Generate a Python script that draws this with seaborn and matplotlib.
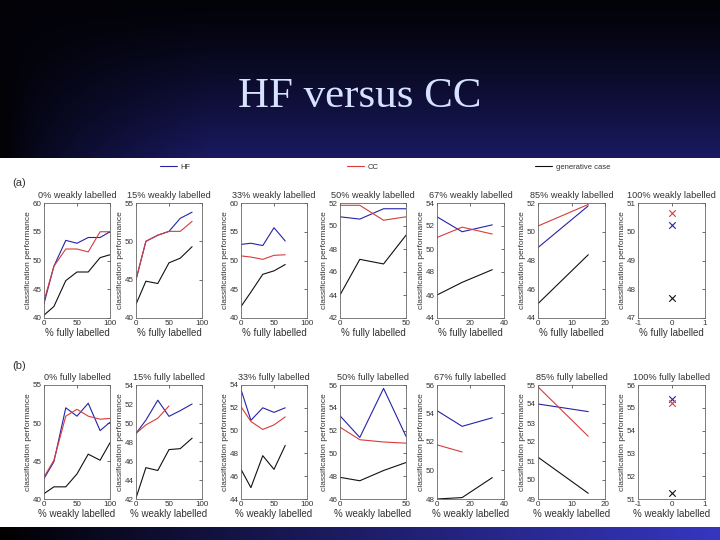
import numpy as np
import seaborn as sns
import matplotlib.pyplot as plt

# x positions (percent labelled) shared by all panels
x_steps = [0, 15, 33, 50, 67, 85, 100]

# (a) fixed % weakly labelled, x = % fully labelled
a_titles = ['0% weakly labelled', '15% weakly labelled', '33% weakly labelled',
            '50% weakly labelled', '67% weakly labelled', '85% weakly labelled',
            '100% weakly labelled']
a_hf = [[42.5, 49.0, 53.5, 53.0, 54.0, 54.0, 55.0],
        [45.0, 50.0, 50.8, 51.3, 53.0, 53.8],
        [52.8, 53.0, 52.6, 55.7, 53.4],
        [50.8, 50.6, 51.5, 51.5],
        [52.8, 51.5, 52.1],
        [48.9, 51.8],
        [50.25]]
a_cc = [[43.0, 49.0, 52.0, 52.0, 51.5, 55.0, 55.0],
        [45.0, 50.0, 50.8, 51.3, 51.3, 52.6],
        [50.8, 50.6, 50.2, 50.9, 51.0],
        [51.8, 51.8, 50.5, 50.8],
        [51.0, 51.9, 51.3],
        [50.4, 51.9],
        [50.65]]
a_gen = [[40.5, 42.0, 46.5, 48.0, 48.0, 50.5, 51.0],
         [41.8, 44.8, 44.5, 47.2, 47.8, 49.3],
         [42.0, 44.5, 47.6, 48.2, 49.3],
         [44.0, 47.1, 46.7, 49.2],
         [46.0, 47.1, 48.2],
         [45.0, 48.4],
         [47.7]]
a_ylims = [(40, 60), (40, 55), (40, 60), (42, 52), (44, 54), (44, 52), (47, 51)]
a_ysteps = [5, 5, 5, 2, 2, 2, 1]

# (b) fixed % fully labelled, x = % weakly labelled
b_titles = ['0% fully labelled', '15% fully labelled', '33% fully labelled',
            '50% fully labelled', '67% fully labelled', '85% fully labelled',
            '100% fully labelled']
b_hf = [[42.7, 44.9, 52.0, 50.9, 52.6, 49.0, 50.1],
        [48.9, 50.3, 52.4, 50.7, 51.3, 52.0],
        [53.6, 50.9, 52.0, 51.6, 52.0],
        [53.3, 51.4, 55.7, 51.5],
        [54.2, 53.1, 53.7],
        [54.0, 53.6],
        [55.4]]
b_cc = [[42.9, 45.1, 50.9, 51.8, 50.9, 50.5, 50.6],
        [48.9, 49.8, 50.5, 51.8],
        [52.1, 50.8, 50.1, 50.5, 51.2],
        [52.3, 51.2, 51.0, 50.9],
        [51.8, 51.3],
        [54.9, 52.3],
        [55.2]]
b_gen = [[40.7, 41.6, 41.6, 43.3, 45.9, 45.1, 47.4],
         [42.1, 45.3, 45.0, 47.2, 47.3, 48.4],
         [46.6, 45.0, 47.8, 46.6, 48.7],
         [47.9, 47.6, 48.5, 49.2],
         [48.0, 48.1, 49.5],
         [51.2, 49.3],
         [51.25]]
b_ylims = [(40, 55), (42, 54), (44, 54), (46, 56), (48, 56), (49, 55), (51, 56)]
b_ysteps = [5, 2, 2, 2, 2, 1, 1]

xlims = [(0, 100), (0, 100), (0, 100), (0, 50), (0, 40), (0, 20), (-1, 1)]
xtick_sets = [[0, 50, 100], [0, 50, 100], [0, 50, 100], [0, 50],
              [0, 20, 40], [0, 10, 20], [-1, 0, 1]]

HF_COL = '#2424a8'
CC_COL = '#d83c3c'
GEN_COL = '#111111'
TXT = '#333333'

sns.set_style('white')
plt.rcParams['font.family'] = ['Liberation Sans', 'DejaVu Sans']
plt.rcParams['axes.unicode_minus'] = False

W, H = 720, 540
fig = plt.figure(figsize=(7.2, 5.4), dpi=100)

# slide background: dark gradient, white panel, blue strip at the bottom
yy, xx = np.mgrid[0:H, 0:W]
navy = np.array([26, 26, 98]) / 255
v = np.clip(yy / 158.0, 0, 1) ** 1.3
h = np.clip((xx - 10) / 200.0, 0, 1) ** 0.7
bg = navy * (0.08 + 0.92 * v * h)[..., None]
bg[158:527] = 1.0
strip = np.array([54, 54, 192]) / 255
bg[527:] = strip * (np.clip(xx[527:] / 720.0, 0, 1) ** 0.9)[..., None]
ax_bg = fig.add_axes([0, 0, 1, 1], zorder=-5)
ax_bg.imshow(bg, aspect='auto', interpolation='bilinear')
ax_bg.axis('off')

fig.text(0.5, 1 - 97 / H, 'HF versus CC', ha='center', va='center',
         family='Liberation Serif', fontsize=31, color='#d6e2ff')

cols = [(44, 110), (136, 202), (241, 307), (340, 406), (437, 504), (538, 605), (638, 705)]
rows = [(203, 318), (385, 499)]


def draw_row(r, titles, hf, cc, gen, ylims, ysteps, xlabel):
    top, bot = rows[r]
    axes = []
    for i in range(7):
        l, rr = cols[i]
        ax = fig.add_axes([l / W, 1 - bot / H, (rr - l) / W, (bot - top) / H])
        ax.set_facecolor('white')
        if i < 6:
            sns.lineplot(x=x_steps[:len(hf[i])], y=hf[i], ax=ax, color=HF_COL, linewidth=0.8)
            sns.lineplot(x=x_steps[:len(cc[i])], y=cc[i], ax=ax, color=CC_COL, linewidth=0.8)
            sns.lineplot(x=x_steps[:len(gen[i])], y=gen[i], ax=ax, color=GEN_COL, linewidth=0.8)
        else:
            sns.scatterplot(x=x_steps[:1], y=hf[i], ax=ax, color=HF_COL, marker='x', s=22, linewidth=0.8)
            sns.scatterplot(x=x_steps[:1], y=cc[i], ax=ax, color=CC_COL, marker='x', s=22, linewidth=0.8)
            sns.scatterplot(x=x_steps[:1], y=gen[i], ax=ax, color=GEN_COL, marker='x', s=22, linewidth=0.8)
        lo, hi = ylims[i]
        ax.set_xlim(*xlims[i])
        ax.set_ylim(lo, hi)
        ax.set_xticks(xtick_sets[i])
        ax.set_yticks(np.arange(lo, hi + 0.1, ysteps[i]))
        ax.tick_params(direction='in', top=True, right=True, length=2.5, width=0.5,
                       labelsize=5.8, colors=TXT, pad=1.5)
        for s in ax.spines.values():
            s.set_color('#666666')
            s.set_linewidth(0.6)
        ax.set_title(titles[i], fontsize=6.6, color=TXT, pad=3.5)
        ax.set_xlabel(xlabel, fontsize=7, color=TXT, labelpad=1)
        ax.set_ylabel('classification performance', fontsize=6.0, color=TXT, labelpad=1)
        axes.append(ax)
    return axes


axes_a = draw_row(0, a_titles, a_hf, a_cc, a_gen, a_ylims, a_ysteps, '% fully labelled')
axes_b = draw_row(1, b_titles, b_hf, b_cc, b_gen, b_ylims, b_ysteps, '% weakly labelled')

fig.text(12 / W, 1 - 183 / H, '(a)', fontsize=8, color=TXT, va='center')
fig.text(12 / W, 1 - 366 / H, '(b)', fontsize=8, color=TXT, va='center')

# legend across the top of the white panel
handles = axes_a[0].get_lines()[:3]
fig.legend(handles, ['HF', 'CC', 'generative case'], loc='center', ncol=3,
           bbox_to_anchor=(0.535, 1 - 167 / H), frameon=False, fontsize=5.5,
           handlelength=2.2, handletextpad=0.5, columnspacing=20.5, labelcolor=TXT)

fig.savefig('out.png', dpi=100)
